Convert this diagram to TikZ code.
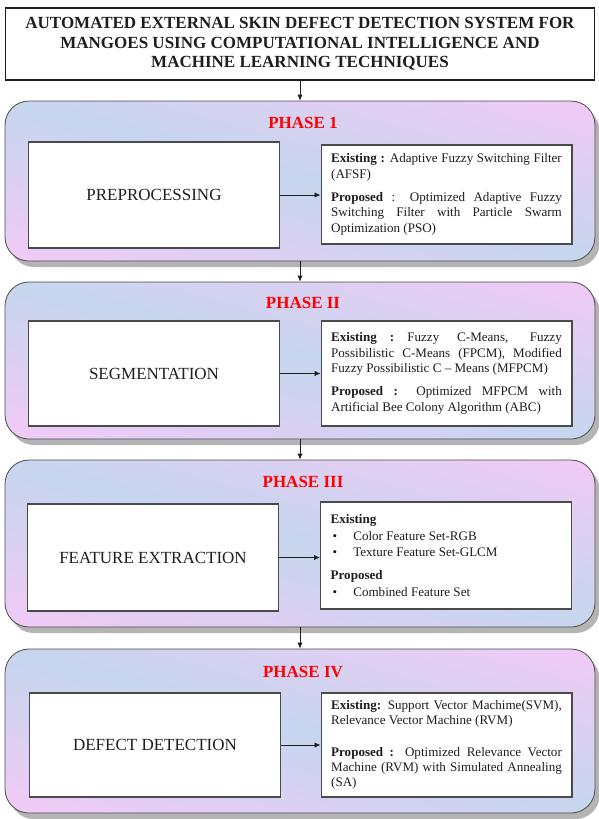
\documentclass[tikz,border=0pt]{standalone}
\usepackage{fontspec}
\setmainfont{Liberation Serif}
\usetikzlibrary{arrows.meta,positioning,shadows}
\hyphenpenalty=10000
\exhyphenpenalty=10000
\definecolor{ink}{HTML}{1E1E1E}
\definecolor{edge}{HTML}{4A4A4A}
\definecolor{phasered}{HTML}{FF0000}
\definecolor{panelblue}{HTML}{C6D6EE}
\definecolor{panelpink}{HTML}{F9C8F8}
\definecolor{shadowgray}{HTML}{B4B4B4}
\pgfdeclareverticalshading{panelshade}{100bp}{color(0bp)=(panelpink); color(14bp)=(panelpink); color(50bp)=(panelblue); color(86bp)=(panelpink); color(100bp)=(panelpink)}
\newcommand{\bitem}[1]{\par\hspace*{1.5pt}\makebox[15.5pt][l]{\textbullet}#1}
\tikzset{
  titlebox/.style={draw=ink, line width=1pt, fill=white, minimum width=441.75pt, minimum height=54pt, align=center, font=\fontsize{12.75}{14.6}\selectfont\bfseries, text=ink},
  panel/.style={draw=edge, line width=0.6pt, rounded corners=18pt, minimum width=442.5pt, shade, shading=panelshade, shading angle=-15, drop shadow={shadow xshift=3.5pt, shadow yshift=-4.5pt, fill=shadowgray, opacity=1}},
  phase/.style={font=\fontsize{12.75}{14}\selectfont\bfseries, text=phasered},
  stepbox/.style={draw=edge, line width=0.8pt, fill=white, minimum width=188pt, font=\fontsize{12.75}{14}\selectfont, text=ink},
  infobox/.style={draw=edge, line width=0.8pt, fill=white, text width=173pt, inner xsep=7.6pt, align=justify, font=\fontsize{9.8}{11.5}\selectfont, text=ink},
  arrow/.style={-{Latex[length=4.5pt,width=4pt]}, line width=0.6pt, draw=ink}
}

\begin{document}
\begin{tikzpicture}[x=0.75pt, y=-0.75pt]
\useasboundingbox (0,0) rectangle (599,819);
\fill[white] (0,0) rectangle (599,819);
\node[titlebox] (title) at (300,44) {AUTOMATED EXTERNAL SKIN DEFECT DETECTION SYSTEM FOR\\MANGOES USING COMPUTATIONAL INTELLIGENCE AND\\MACHINE LEARNING TECHNIQUES};
% phase 1
\node[panel, minimum height=120pt] (phase1) at (300,181) {};
\node[phase] (head1) at (303,123) {PHASE 1};
\node[stepbox, minimum height=79.5pt] (step1) at (154,195) {PREPROCESSING};
\node[infobox, minimum height=74.25pt] (info1) at (446.5,194.5) {\textbf{Existing :} Adaptive Fuzzy Switching Filter (AFSF)\par\vspace{6pt}\textbf{Proposed} : Optimized Adaptive Fuzzy \linebreak Switching Filter with Particle Swarm \linebreak Optimization (PSO)};
% phase 2
\node[panel, minimum height=117.75pt] (phase2) at (300,360.5) {};
\node[phase] (head2) at (303,303) {PHASE II};
\node[stepbox, minimum height=78.75pt] (step2) at (154,373.5) {SEGMENTATION};
\node[infobox, minimum height=78.75pt] (info2) at (446.5,373.5) {\textbf{Existing\quad:}\quad Fuzzy C-Means, Fuzzy \linebreak Possibilistic C-Means (FPCM), Modified \linebreak Fuzzy Possibilistic C -- Means (MFPCM)\par\vspace{6pt}\textbf{Proposed :} Optimized MFPCM with \linebreak Artificial Bee Colony Algorithm (ABC)};
% phase 3
\node[panel, minimum height=125.25pt] (phase3) at (300,543.5) {};
\node[phase] (head3) at (303,482) {PHASE III};
\node[stepbox, minimum height=80.25pt] (step3) at (153,557.5) {FEATURE EXTRACTION\hspace{18pt}};
\node[infobox, minimum height=80.25pt, font=\fontsize{9.8}{12.4}\selectfont] (info3) at (446,555.5) {\textbf{Existing}\bitem{Color Feature Set-RGB}\bitem{Texture Feature Set-GLCM}\par\vspace{5pt}\textbf{Proposed}\bitem{Combined Feature Set}};
% phase 4
\node[panel, minimum height=123pt] (phase4) at (300,731) {};
\node[phase] (head4) at (303,672) {PHASE IV};
\node[stepbox, minimum height=78pt] (step4) at (155,745) {DEFECT DETECTION};
\node[infobox, minimum height=78pt] (info4) at (446.5,745) {\textbf{Existing:} Support Vector Machime(SVM), \linebreak Relevance Vector Machine (RVM)\par\vspace{12pt}\textbf{Proposed :} Optimized Relevance Vector \linebreak Machine (RVM) with Simulated Annealing \linebreak (SA)};
% connectors
\draw[arrow] (title) -- (phase1);
\draw[arrow] (phase1) -- (phase2);
\draw[arrow] (phase2) -- (phase3);
\draw[arrow] (phase3) -- (phase4);
\draw[arrow] (step1.east) -- (step1.east -| info1.west);
\draw[arrow] (step2.east) -- (step2.east -| info2.west);
\draw[arrow] (step3.east) -- (step3.east -| info3.west);
\draw[arrow] (step4.east) -- (step4.east -| info4.west);
\end{tikzpicture}
\end{document}
